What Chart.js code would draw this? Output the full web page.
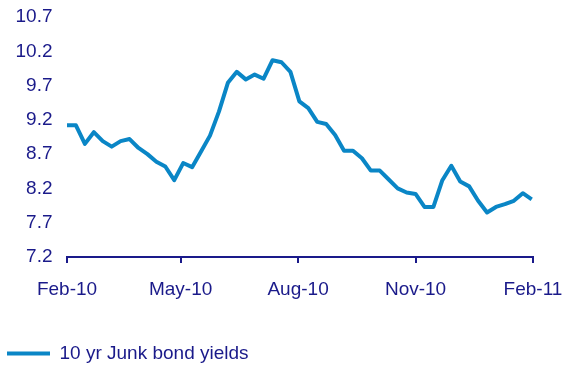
<!DOCTYPE html>
<html><head><meta charset="utf-8">
<script src="https://cdn.jsdelivr.net/npm/chart.js@4.4.0/dist/chart.umd.min.js"></script>
<style>html,body{margin:0;padding:0;background:#fff;} canvas{display:block;}</style>
</head><body>
<canvas id="c" width="565" height="366"></canvas>
<script>
const seriesName = '10 yr Junk bond yields';
const startDate = '2010-02-01';
const weekStepDays = 7;
const yields = [
  9.12, 9.12, 8.85, 9.02, 8.89, 8.81, 8.89, 8.92, 8.79, 8.70,
  8.59, 8.52, 8.32, 8.57, 8.51, 8.74, 8.97, 9.32, 9.74, 9.90,
  9.79, 9.86, 9.80, 10.07, 10.04, 9.90, 9.47, 9.37, 9.17, 9.14,
  8.98, 8.75, 8.75, 8.64, 8.46, 8.46, 8.33, 8.20, 8.14, 8.12,
  7.93, 7.93, 8.32, 8.53, 8.30, 8.23, 8.02, 7.85, 7.93, 7.97,
  8.02, 8.13, 8.04
];
const xTickDates = ['2010-02-01','2010-05-01','2010-08-01','2010-11-01','2011-02-01'];
const xTickLabels = ['Feb-10','May-10','Aug-10','Nov-10','Feb-11'];
const yTickValues = [7.2, 7.7, 8.2, 8.7, 9.2, 9.7, 10.2, 10.7];

const LINE = '#0a86c6';
const TEXT = '#1a1a8a';
const FONT = '"Liberation Sans", Arial, sans-serif';

const DAY = 86400000;
const t0 = Date.parse(startDate);
const dayOf = d => Math.round((Date.parse(d) - t0) / DAY);
const points = yields.map((v, i) => ({ x: i * weekStepDays, y: v }));
const xTickPos = xTickDates.map(dayOf);

new Chart(document.getElementById('c'), {
  type: 'line',
  data: {
    datasets: [{
      label: seriesName,
      data: points,
      borderColor: LINE,
      backgroundColor: LINE,
      borderWidth: 4,
      pointRadius: 0,
      tension: 0,
      borderJoinStyle: 'round',
      fill: false
    }]
  },
  options: {
    responsive: false,
    animation: false,
    devicePixelRatio: 1,
    layout: { padding: { top: 17, right: 32, bottom: -7, left: 0 } },
    plugins: {
      legend: {
        position: 'bottom',
        align: 'start',
        labels: {
          usePointStyle: true,
          pointStyle: 'line',
          pointStyleWidth: 43,
          boxWidth: 43,
          padding: 7,
          color: TEXT,
          font: { family: FONT, size: 19 }
        }
      },
      tooltip: { enabled: false }
    },
    scales: {
      x: {
        type: 'linear',
        min: xTickPos[0],
        max: xTickPos[xTickPos.length - 1],
        afterBuildTicks: s => { s.ticks = xTickPos.map(v => ({ value: v })); },
        afterFit: s => { s.height = 80; s.paddingLeft = 0; s.paddingRight = 0; },
        ticks: {
          callback: (v, i) => xTickLabels[i],
          color: TEXT,
          font: { family: FONT, size: 19 },
          padding: 15,
          maxRotation: 0,
          autoSkip: false
        },
        grid: { display: true, drawOnChartArea: false, drawTicks: true, tickLength: 6, color: TEXT, lineWidth: 2 },
        border: { display: true, color: TEXT, width: 2 }
      },
      y: {
        min: yTickValues[0],
        max: yTickValues[yTickValues.length - 1],
        afterBuildTicks: s => { s.ticks = yTickValues.map(v => ({ value: v })); },
        afterFit: s => { s.width = 67; s.paddingTop = 0; s.paddingBottom = 0; },
        ticks: {
          callback: v => Number(v).toFixed(1),
          color: TEXT,
          font: { family: FONT, size: 19 },
          padding: 14.5
        },
        grid: { display: false, drawTicks: false },
        border: { display: false }
      }
    }
  }
});
</script>
</body></html>
